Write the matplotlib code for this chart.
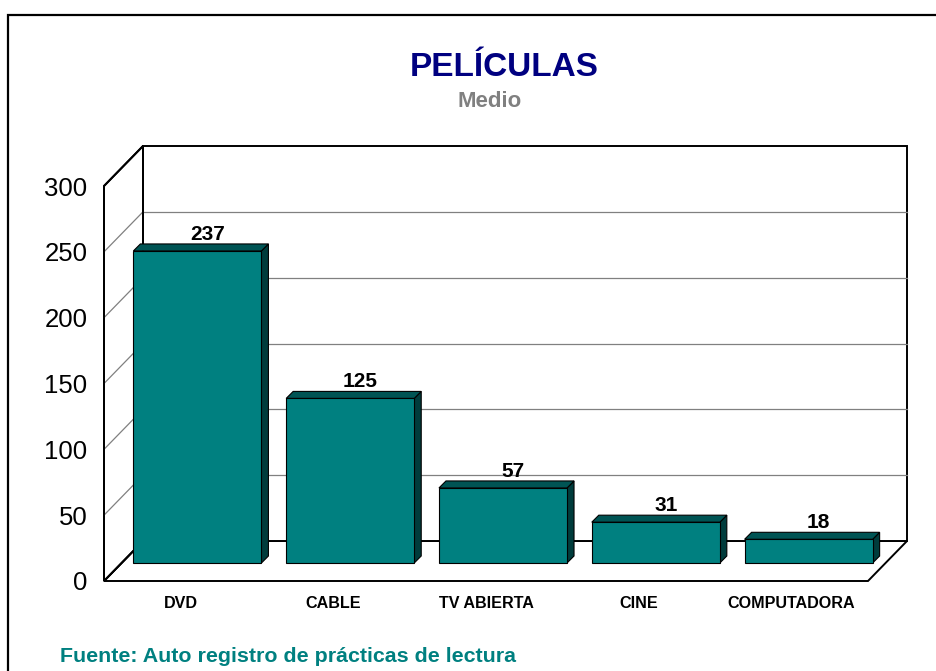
import matplotlib
matplotlib.use("Agg")
import matplotlib.pyplot as plt
from matplotlib.patches import Rectangle, Polygon
from matplotlib.transforms import Affine2D, IdentityTransform

plt.rcParams['font.family'] = ['Liberation Sans', 'DejaVu Sans']

# ---- data ----
categories = ["DVD", "CABLE", "TV ABIERTA", "CINE", "COMPUTADORA"]
values = [237, 125, 57, 31, 18]
yticks = [0, 50, 100, 150, 200, 250, 300]
title = "PELÍCULAS"
subtitle = "Medio"
source = "Fuente: Auto registro de prácticas de lectura"

W, H = 936, 671
fig = plt.figure(figsize=(W / 100, H / 100), dpi=100)

# front plane of the 3-D box (pixel positions)
left, right, y0, y300 = 104, 868, 581, 186
ax = fig.add_axes([left / W, (H - y0) / H, (right - left) / W, (y0 - y300) / H])
ax.set_xlim(-0.5, len(categories) - 0.5)
ax.set_ylim(0, 300)
ax.patch.set_visible(False)
for s in ax.spines.values():
    s.set_visible(False)

DX, DY = 39, 40          # wall depth (px)
BX, BY = 17, 18          # bar front-face depth
BD = 7                   # bar depth
xmin, xmax = ax.get_xlim()
ymax = 300
ident = IdentityTransform()

def disp(x, y, ox=0, oy=0):
    px, py = ax.transData.transform((x, y))
    return (px + ox, py + oy)

def poly(pts, z, **kw):
    p = Polygon(pts, closed=True, transform=ident, zorder=z, clip_on=False, **kw)
    ax.add_patch(p)
    return p

back = ax.transData + Affine2D().translate(DX, DY)

# floor
poly([disp(xmin, 0), disp(xmax, 0), disp(xmax, 0, DX, DY), disp(xmin, 0, DX, DY)], 1,
     facecolor='white', edgecolor='black', lw=1.4)
# left wall
poly([disp(xmin, 0), disp(xmin, ymax), disp(xmin, ymax, DX, DY), disp(xmin, 0, DX, DY)], 1,
     facecolor='white', edgecolor='black', lw=1.4)
# back wall
ax.add_patch(Rectangle((xmin, 0), xmax - xmin, ymax, transform=back, facecolor='white',
                       edgecolor='black', lw=1.4, zorder=1, clip_on=False))
# gridlines
for t in yticks[1:-1]:
    ax.plot([xmin, xmax], [t, t], transform=back, color='#808080', lw=0.9, zorder=2, clip_on=False)
    p1, p2 = disp(xmin, t), disp(xmin, t, DX, DY)
    ax.plot([p1[0], p2[0]], [p1[1], p2[1]], transform=ident, color='#808080', lw=0.9,
            zorder=2, clip_on=False)
# left wall outline on top of grid
poly([disp(xmin, 0), disp(xmin, ymax), disp(xmin, ymax, DX, DY), disp(xmin, 0, DX, DY)], 3,
     fill=False, edgecolor='black', lw=1.4)

# bars
w = 0.838
front_t = ax.transData + Affine2D().translate(BX, BY)
for i, v in enumerate(values):
    x0, x1 = i - w / 2, i + w / 2
    poly([disp(x1, 0, BX, BY), disp(x1, v, BX, BY), disp(x1, v, BX + BD, BY + BD),
          disp(x1, 0, BX + BD, BY + BD)], 4, facecolor='#003c3c', edgecolor='black', lw=0.8)
    poly([disp(x0, v, BX, BY), disp(x1, v, BX, BY), disp(x1, v, BX + BD, BY + BD),
          disp(x0, v, BX + BD, BY + BD)], 4, facecolor='#005454', edgecolor='black', lw=0.8)
    ax.add_patch(Rectangle((x0, 0), w, v, transform=front_t, facecolor='#008080',
                           edgecolor='black', lw=0.8, zorder=5, clip_on=False))
    ax.text(i, v, str(v), transform=ax.transData + Affine2D().translate(27, 29),
            ha='center', va='baseline', fontsize=15, fontweight='bold', color='black', zorder=6)

ax.set_yticks(yticks)
ax.set_yticklabels([str(t) for t in yticks], fontsize=18.5)
ax.set_xticks(range(len(categories)))
ax.set_xticklabels(categories, fontsize=11.6, fontweight='bold')
ax.tick_params(axis='y', length=0, pad=12)
ax.tick_params(axis='x', length=0, pad=11)

fig.text(504 / W, 1 - 68 / H, title, ha='center', va='center', fontsize=24,
         fontweight='bold', color='#000080')
fig.text(490 / W, 1 - 101.5 / H, subtitle, ha='center', va='center', fontsize=16,
         fontweight='bold', color='#808080')
fig.text(60 / W, 1 - 656 / H, source, ha='left', va='center', fontsize=15.4,
         fontweight='bold', color='#008080')

# outer border
fig.add_artist(Rectangle((8 / W, -10 / H), (940 - 8) / W, (H - 5) / H, transform=fig.transFigure,
                         fill=False, edgecolor='black', lw=1.6))

fig.savefig("out.png", dpi=100)
